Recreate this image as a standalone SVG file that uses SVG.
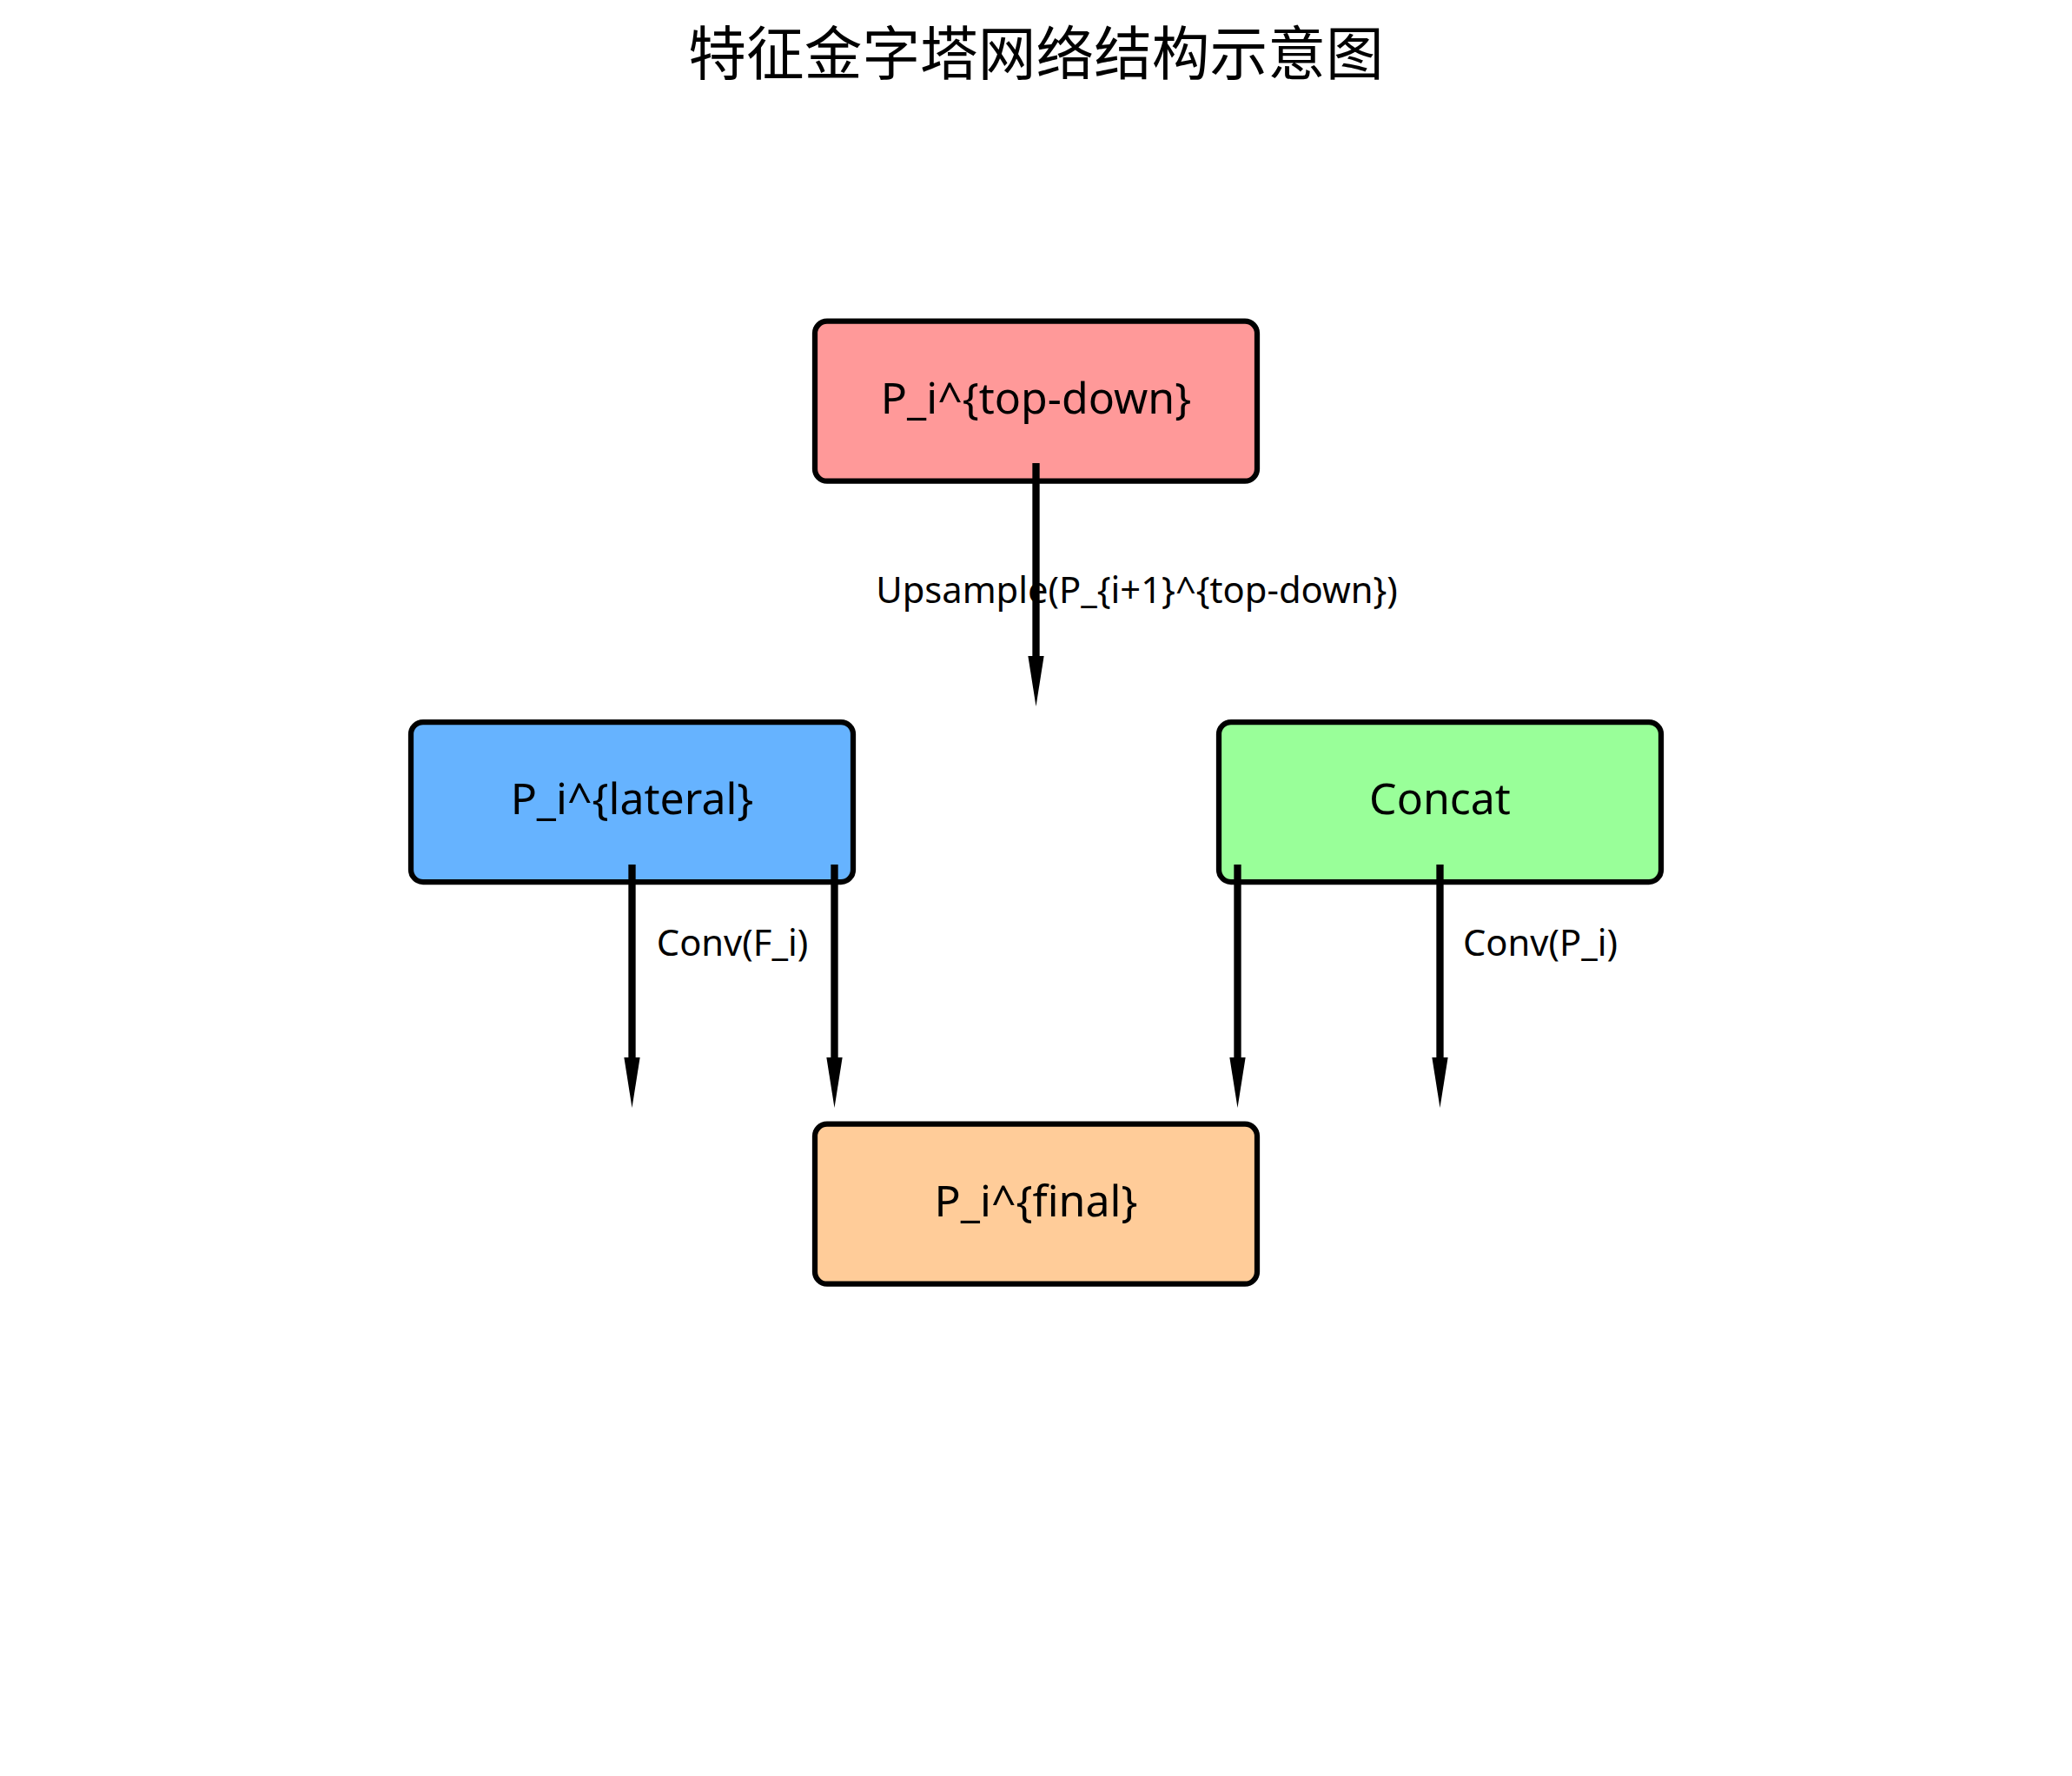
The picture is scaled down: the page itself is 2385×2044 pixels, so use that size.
<svg xmlns="http://www.w3.org/2000/svg" width="2385" height="2044" viewBox="0 0 2385 2044">
  <style>
    .box { stroke: #000; stroke-width: 6.25; }
    .lbl { font-family: "Noto Sans", "Noto Sans CJK SC", sans-serif; font-size: 50px; fill: #000; text-anchor: middle; }
    .elbl { font-family: "Noto Sans", "Noto Sans CJK SC", sans-serif; font-size: 41.7px; fill: #000; text-anchor: middle; }
    .title { font-family: "Noto Sans CJK SC", "Noto Sans", sans-serif; font-size: 66.7px; fill: #000; text-anchor: middle; }
    .conn { stroke: #000; stroke-width: 8.33; fill: none; stroke-linecap: butt; marker-end: url(#arrow); }
  </style>
  <defs>
    <marker id="arrow" markerUnits="userSpaceOnUse" orient="auto" refX="0" refY="0" markerWidth="70" markerHeight="30" viewBox="0 -15 70 30" overflow="visible">
      <path d="M0,-9.15 L58,0 L0,9.15 Z" fill="#000"/>
    </marker>
  </defs>
  <rect x="0" y="0" width="2385" height="2044" fill="#ffffff"/>

  <text class="title" x="1192.5" y="86">特征金字塔网络结构示意图</text>

  <g id="node-topdown">
    <rect class="box" x="938" y="369.7" width="509" height="184" rx="14" ry="14" fill="#ff9999"/>
    <text class="lbl" x="1192.5" y="475.5">P_i^{top-down}</text>
  </g>
  <g id="node-lateral">
    <rect class="box" x="473" y="831" width="509" height="184" rx="14" ry="14" fill="#66b3ff"/>
    <text class="lbl" x="727.5" y="937">P_i^{lateral}</text>
  </g>
  <g id="node-concat">
    <rect class="box" x="1403" y="831" width="509" height="184" rx="14" ry="14" fill="#99ff99"/>
    <text class="lbl" x="1657.5" y="937">Concat</text>
  </g>
  <g id="node-final">
    <rect class="box" x="938" y="1293.7" width="509" height="184" rx="14" ry="14" fill="#ffcc99"/>
    <text class="lbl" x="1192.5" y="1400">P_i^{final}</text>
  </g>

  <g id="connectors">
    <path class="conn" d="M1192.5,533 L1192.5,755"/>
    <path class="conn" d="M727.5,995 L727.5,1217"/>
    <path class="conn" d="M960.5,995 L960.5,1217"/>
    <path class="conn" d="M1424.5,995 L1424.5,1217"/>
    <path class="conn" d="M1657.5,995 L1657.5,1217"/>
    <text class="elbl" x="1308.5" y="694">Upsample(P_{i+1}^{top-down})</text>
    <text class="elbl" x="843" y="1100">Conv(F_i)</text>
    <text class="elbl" x="1773" y="1100">Conv(P_i)</text>
  </g>
</svg>
